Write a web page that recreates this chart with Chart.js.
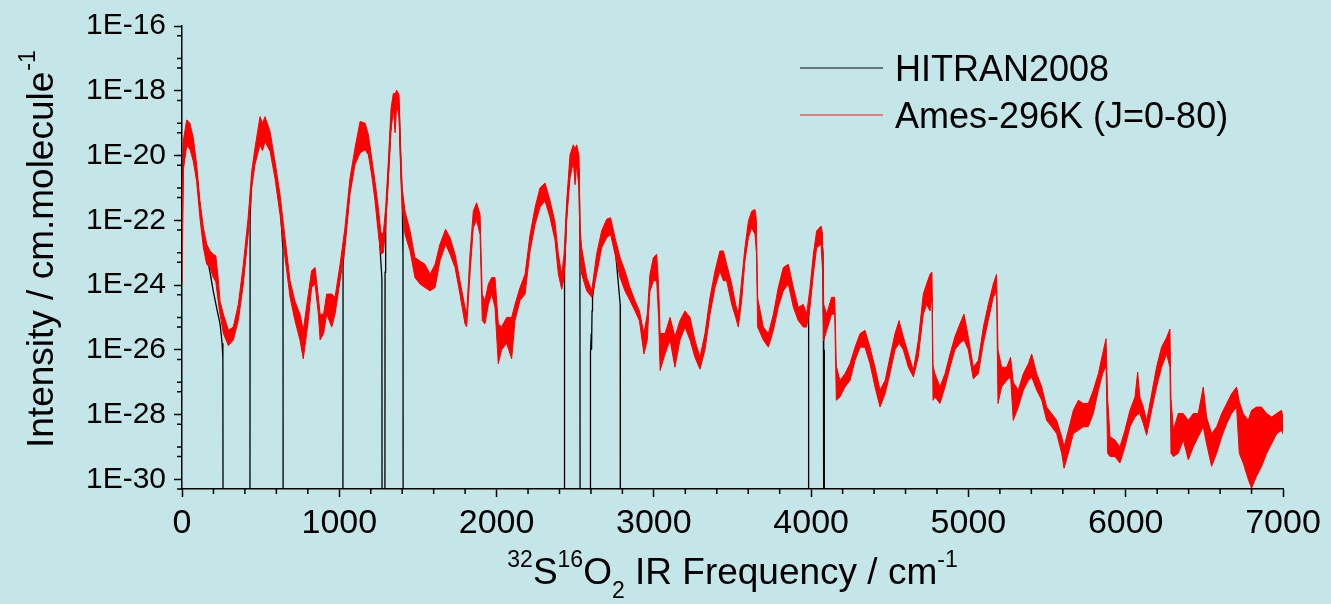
<!DOCTYPE html>
<html>
<head>
<meta charset="utf-8">
<script src="https://cdn.jsdelivr.net/npm/chart.js@4/dist/chart.umd.min.js"></script>
<style>
body { margin: 0; background: #c5e6e8; }
canvas { display: block; }
</style>
</head>
<body>
<canvas id="myChart" width="1331" height="604"></canvas>
<script>
// frequencies (cm-1) and log10 intensity, upper and lower edge of the Ames band
var freq = [0, 10, 30, 50, 72, 93, 114, 136, 157, 178, 199, 215, 230, 242, 263, 295, 326, 358, 390, 421,
  443, 464, 496, 512, 528, 560, 591, 623, 655, 687, 718, 750, 771, 803, 824, 846, 867, 878, 900, 920,
  952, 973, 1005, 1036, 1068, 1100, 1132, 1164, 1185, 1206, 1227, 1248, 1265, 1280, 1295, 1312, 1329, 1344, 1355, 1365,
  1380, 1392, 1400, 1418, 1450, 1481, 1513, 1545, 1577, 1609, 1640, 1676, 1704, 1736, 1767, 1799, 1810, 1831, 1852, 1873,
  1895, 1909, 1926, 1948, 1969, 1990, 2011, 2032, 2064, 2096, 2117, 2149, 2181, 2213, 2245, 2276, 2308, 2340, 2371, 2393,
  2414, 2429, 2446, 2467, 2488, 2499, 2509, 2524, 2532, 2541, 2573, 2605, 2636, 2668, 2700, 2725, 2753, 2785, 2816, 2848,
  2880, 2908, 2937, 2958, 2975, 2997, 3018, 3030, 3040, 3071, 3103, 3134, 3166, 3198, 3230, 3261, 3293, 3325, 3357, 3389,
  3420, 3442, 3463, 3495, 3520, 3537, 3558, 3579, 3601, 3622, 3643, 3652, 3660, 3696, 3728, 3760, 3791, 3823, 3855, 3887,
  3918, 3950, 3971, 3993, 4014, 4035, 4063, 4072, 4080, 4099, 4130, 4150, 4160, 4183, 4215, 4247, 4279, 4311, 4342, 4374,
  4406, 4438, 4470, 4501, 4533, 4559, 4586, 4618, 4650, 4681, 4713, 4734, 4756, 4768, 4775, 4787, 4819, 4851, 4883, 4914,
  4946, 4972, 4999, 5031, 5063, 5095, 5126, 5158, 5179, 5188, 5211, 5243, 5268, 5285, 5317, 5349, 5381, 5402, 5434, 5466,
  5497, 5529, 5561, 5593, 5608, 5635, 5667, 5699, 5730, 5762, 5794, 5826, 5853, 5875, 5885, 5900, 5932, 5963, 5995, 6027,
  6059, 6076, 6090, 6112, 6133, 6165, 6196, 6228, 6260, 6281, 6288, 6303, 6334, 6366, 6398, 6430, 6461, 6493, 6514, 6546,
  6578, 6610, 6642, 6673, 6705, 6722, 6747, 6779, 6800, 6832, 6864, 6896, 6928, 6959, 6991, 7000];

var amesHi = [-22.0, -19.5, -18.9, -19.0, -19.46, -20.28, -21.4, -22.23, -22.74, -22.95, -23.05, -23.1, -23.8, -24.5, -24.9, -25.4, -25.3, -24.6, -23.36, -21.9,
  -20.5, -19.77, -18.8, -19.0, -18.8, -19.26, -20.18, -21.2, -22.54, -23.87, -24.5, -24.9, -25.4, -24.28, -23.56, -23.46, -24.38, -24.9, -24.9, -24.28,
  -24.28, -24.38, -23.36, -22.23, -20.7, -19.77, -18.95, -19.0, -19.36, -20.08, -20.8, -21.6, -22.4, -22.4, -21.6, -20.18, -18.54, -18.08, -18.1, -17.98,
  -18.13, -20.0, -21.0, -21.72, -22.33, -23.15, -23.26, -23.36, -23.67, -23.36, -22.74, -22.28, -22.54, -23.05, -23.87, -24.69, -24.9, -23.05, -21.72, -21.46,
  -21.82, -24.3, -24.48, -23.97, -23.77, -23.77, -25.2, -25.3, -25.0, -25.0, -24.6, -24.08, -23.67, -22.44, -21.6, -21.0, -20.85, -21.4, -22.05, -23.05,
  -23.67, -23.05, -21.4, -19.98, -19.67, -19.8, -19.67, -20.0, -22.3, -22.85, -23.77, -24.18, -23.05, -22.33, -21.97, -21.92, -22.54, -23.15, -23.56, -24.08,
  -24.48, -24.8, -25.5, -24.9, -23.67, -23.15, -23.05, -24.0, -25.5, -25.5, -25.0, -25.6, -25.1, -24.8, -25.0, -25.7, -26.23, -25.5, -24.38, -23.56,
  -22.95, -22.95, -23.36, -23.97, -24.6, -24.9, -23.87, -22.85, -22.03, -21.72, -21.67, -22.0, -24.4, -25.3, -25.5, -24.9, -24.08, -23.46, -23.36, -24.08,
  -24.69, -24.6, -24.9, -24.08, -23.05, -22.33, -22.18, -22.4, -24.6, -24.9, -24.38, -24.38, -26.5, -26.95, -26.74, -26.43, -25.92, -25.5, -25.4, -25.92,
  -26.54, -27.25, -26.95, -26.23, -25.5, -25.1, -25.6, -26.13, -26.64, -25.72, -24.28, -23.97, -23.67, -23.6, -26.5, -26.74, -27.15, -26.74, -26.13, -25.6,
  -25.2, -24.9, -25.6, -26.54, -26.33, -25.3, -24.6, -23.97, -23.67, -26.0, -26.54, -26.54, -26.23, -27.0, -27.25, -26.74, -26.43, -26.13, -26.74, -27.15,
  -27.77, -27.97, -28.18, -28.69, -29.0, -28.49, -27.87, -27.56, -27.66, -27.66, -27.25, -26.74, -26.13, -25.66, -27.5, -28.69, -28.79, -29.0, -28.49, -27.87,
  -27.46, -26.69, -27.46, -27.77, -28.2, -27.36, -26.54, -25.92, -25.62, -25.36, -27.5, -28.49, -27.97, -27.97, -28.18, -27.97, -27.97, -27.15, -28.08, -28.59,
  -28.38, -27.97, -27.66, -27.36, -27.15, -27.6, -27.97, -28.18, -27.87, -27.77, -27.77, -27.97, -28.08, -27.97, -27.87, -28.1];

var amesLo = [-24.0, -20.4, -19.7, -19.8, -20.18, -20.8, -21.92, -22.85, -23.36, -23.46, -23.77, -23.9, -24.5, -24.9, -25.5, -25.87, -25.7, -25.1, -23.97, -22.44,
  -21.0, -20.28, -19.67, -19.85, -19.57, -19.87, -20.7, -21.82, -23.15, -24.38, -25.1, -25.7, -26.28, -25.1, -24.08, -23.97, -24.9, -25.7, -25.5, -24.9,
  -25.3, -24.9, -23.87, -22.85, -21.2, -20.28, -19.92, -19.82, -19.98, -20.6, -21.4, -22.4, -23.05, -23.0, -22.23, -20.8, -19.26, -18.54, -19.3, -18.44,
  -18.8, -20.8, -21.6, -22.44, -22.95, -23.77, -23.97, -24.08, -24.18, -24.08, -23.26, -22.74, -23.05, -23.46, -24.28, -25.2, -25.29, -23.67, -22.23, -22.0,
  -22.44, -25.1, -25.2, -24.6, -24.28, -24.69, -26.43, -26.0, -25.8, -26.28, -25.1, -24.48, -24.28, -22.95, -22.13, -21.6, -21.4, -21.92, -22.6, -23.67,
  -24.13, -23.8, -22.0, -20.7, -20.18, -20.9, -20.28, -21.0, -23.2, -23.67, -24.18, -24.38, -23.67, -22.85, -22.54, -22.44, -23.05, -23.77, -24.18, -24.48,
  -24.8, -25.1, -26.13, -25.7, -24.2, -23.87, -23.87, -25.0, -26.64, -26.13, -25.7, -26.54, -25.7, -25.3, -25.7, -26.23, -26.6, -26.0, -24.9, -24.08,
  -23.56, -23.87, -23.87, -24.6, -25.0, -25.3, -24.5, -23.26, -22.54, -22.23, -22.44, -23.0, -25.3, -25.7, -25.92, -25.4, -24.69, -24.18, -23.97, -24.69,
  -25.1, -25.3, -25.3, -24.69, -23.67, -22.85, -22.74, -23.5, -25.72, -25.4, -24.9, -24.9, -27.56, -27.46, -27.15, -26.95, -26.33, -25.92, -25.92, -26.43,
  -27.15, -27.77, -27.36, -26.74, -26.0, -25.8, -26.0, -26.54, -26.84, -26.23, -24.9, -24.6, -24.8, -24.3, -27.56, -27.46, -27.66, -27.15, -26.54, -26.0,
  -25.8, -25.7, -26.0, -26.9, -26.74, -25.8, -25.1, -24.38, -24.18, -27.66, -27.15, -26.95, -26.84, -28.18, -27.77, -27.25, -26.95, -26.84, -27.25, -27.56,
  -28.18, -28.38, -28.59, -29.2, -29.66, -29.2, -28.59, -28.49, -28.38, -28.38, -27.97, -27.25, -26.74, -26.5, -29.2, -29.3, -29.3, -29.5, -29.0, -28.38,
  -28.08, -28.0, -27.97, -28.28, -28.64, -27.87, -27.15, -26.54, -26.13, -26.54, -29.2, -29.3, -29.2, -28.79, -29.4, -29.0, -28.69, -28.38, -28.9, -29.6,
  -29.2, -28.69, -28.28, -27.97, -27.77, -29.2, -29.5, -30.0, -30.28, -29.9, -29.6, -29.2, -28.9, -28.6, -28.49, -28.6];

// HITRAN2008 trace, -32 means no line (below the axis)
var hitranFreq = [0, 10, 30, 50, 72, 93, 114, 136, 157, 178, 199, 220, 242, 255, 260, 261,
  432, 433, 443, 464, 496, 528, 560, 591, 623, 642, 643,
  1023, 1024, 1036, 1068, 1100, 1132, 1164, 1185, 1206, 1227, 1248, 1271, 1272,
  1290, 1291, 1295, 1312, 1329, 1344, 1365, 1380, 1392, 1400, 1405, 1406,
  2431, 2432, 2446, 2467, 2488, 2509, 2524, 2530, 2531,
  2596, 2597, 2602, 2604, 2607, 2610, 2636, 2668, 2700, 2725, 2753, 2786, 2787,
  3983, 3984, 3993, 4014, 4035, 4063, 4075, 4078, 4080, 4082, 4084, 7000];
var hitranLog = [-21.5, -19.6, -19.2, -19.3, -19.8, -20.5, -21.6, -22.6, -23.1, -23.6, -24.2, -24.7, -25.2, -25.8, -26.3, -32,
  -32, -21.9, -20.8, -20.0, -19.2, -19.1, -19.5, -20.4, -21.5, -22.9, -32,
  -32, -23.4, -22.6, -21.0, -20.0, -19.4, -19.4, -19.6, -20.3, -21.1, -22.0, -23.8, -32,
  -32, -23.6, -22.0, -20.5, -18.9, -18.3, -18.2, -18.5, -20.4, -21.3, -23.05, -32,
  -32, -23.6, -21.7, -20.3, -19.9, -20.0, -20.5, -22.5, -32,
  -32, -26.1, -25.5, -26.0, -24.8, -24.4, -23.4, -22.6, -22.3, -22.2, -22.8, -24.6, -32,
  -32, -25.0, -24.4, -23.4, -22.6, -22.4, -23.0, -25.4, -32, -26.0, -32, -32];

var yTickExp = [-30, -28, -26, -24, -22, -20, -18, -16];
var xTicks = [0, 1000, 2000, 3000, 4000, 5000, 6000, 7000];

function toPoints(xs, logs) {
  var pts = [];
  for (var i = 0; i < xs.length; i++) pts.push({x: xs[i], y: Math.pow(10, logs[i])});
  return pts;
}

var FONT = '"Liberation Sans", Arial, sans-serif';

var extras = {
  id: 'extras',
  beforeDraw: function(chart) {
    var c = chart.ctx;
    c.save();
    c.fillStyle = '#c5e6e8';
    c.fillRect(0, 0, chart.width, chart.height);
    c.restore();
  },
  afterDraw: function(chart) {
    var c = chart.ctx;
    var xs = chart.scales.x, ys = chart.scales.y, a = chart.chartArea;
    c.save();
    c.strokeStyle = '#000';
    c.lineWidth = 1.5;
    c.beginPath();
    for (var v = 200; v < 7000; v += 200) {
      if (v % 1000 === 0) continue;
      var px = xs.getPixelForValue(v);
      c.moveTo(px, a.bottom);
      c.lineTo(px, a.bottom + 5);
    }
    for (var e = -31; e <= -17; e++) {
      var vals = [5 * Math.pow(10, e)];
      if (e % 2 !== 0) vals.push(Math.pow(10, e));
      vals.forEach(function(val) {
        if (val < ys.min || val > ys.max) return;
        var py = ys.getPixelForValue(val);
        c.moveTo(a.left - 5, py);
        c.lineTo(a.left, py);
      });
    }
    c.stroke();

    // legend
    c.lineWidth = 1.5;
    c.strokeStyle = 'rgba(0,0,0,0.65)';
    c.beginPath(); c.moveTo(800, 68); c.lineTo(883, 68); c.stroke();
    c.strokeStyle = 'rgba(255,0,0,0.6)';
    c.beginPath(); c.moveTo(800, 115); c.lineTo(883, 115); c.stroke();
    c.fillStyle = '#000';
    c.font = '36px ' + FONT;
    c.textAlign = 'left';
    c.textBaseline = 'alphabetic';
    c.fillText('HITRAN2008', 895, 81);
    c.fillText('Ames-296K (J=0-80)', 895, 128);

    // y title
    c.save();
    c.translate(53, 448);
    c.rotate(-Math.PI / 2);
    c.font = '37px ' + FONT;
    var t = 'Intensity / cm.molecule';
    c.fillText(t, 0, 0);
    var w = c.measureText(t).width;
    c.font = '23px ' + FONT;
    c.fillText('-1', w + 1, -18);
    c.restore();

    // x title
    var parts = [['32', 'sup'], ['S', ''], ['16', 'sup'], ['O', ''], ['2', 'sub'], [' IR Frequency / cm', ''], ['-1', 'sup']];
    var total = 0;
    parts.forEach(function(p) {
      c.font = (p[1] ? '23px ' : '37px ') + FONT;
      total += c.measureText(p[0]).width;
    });
    var x0 = (a.left + a.right) / 2 - total / 2, base = 584;
    parts.forEach(function(p) {
      c.font = (p[1] ? '23px ' : '37px ') + FONT;
      var dy = p[1] === 'sup' ? -17 : (p[1] === 'sub' ? 14 : 0);
      c.fillText(p[0], x0, base + dy);
      x0 += c.measureText(p[0]).width;
    });
    c.restore();
  }
};

var ctx = document.getElementById('myChart').getContext('2d');
var myChart = new Chart(ctx, {
  type: 'line',
  data: {
    datasets: [{
      label: 'Ames-296K (J=0-80)',
      data: toPoints(freq, amesHi),
      borderColor: '#ff0000',
      backgroundColor: '#ff0000',
      borderWidth: 1,
      fill: '+1',
      order: 0
    }, {
      label: 'Ames lower',
      data: toPoints(freq, amesLo),
      borderColor: '#ff0000',
      borderWidth: 1,
      fill: false,
      order: 0
    }, {
      label: 'HITRAN2008',
      data: toPoints(hitranFreq, hitranLog),
      borderColor: '#000000',
      borderWidth: 1.3,
      fill: false,
      order: 1
    }]
  },
  options: {
    responsive: false,
    animation: false,
    elements: { point: { radius: 0 }, line: { tension: 0 } },
    layout: { padding: { top: 24, right: 48, left: 0, bottom: 0 } },
    plugins: { legend: { display: false }, tooltip: { enabled: false } },
    scales: {
      x: {
        type: 'linear',
        min: 0,
        max: 7000,
        afterBuildTicks: function(s) { s.ticks = xTicks.map(function(v) { return {value: v}; }); },
        afterFit: function(s) { s.height = 115; },
        ticks: {
          color: '#000', font: { family: FONT, size: 34 }, padding: 6, maxRotation: 0, autoSkip: false,
          callback: function(v) { return String(v); }
        },
        grid: { drawOnChartArea: false, tickLength: 8, tickColor: '#000', tickWidth: 1.5 },
        border: { color: '#000', width: 1.5 }
      },
      y: {
        type: 'logarithmic',
        min: 5e-31,
        max: 1e-16,
        afterBuildTicks: function(s) { s.ticks = yTickExp.map(function(e) { return {value: Math.pow(10, e)}; }); },
        afterFit: function(s) { s.width = 182; },
        ticks: {
          color: '#000', font: { family: FONT, size: 30 }, padding: 8, autoSkip: false,
          callback: function(v) { return '1E' + Math.round(Math.log10(v)); }
        },
        grid: { drawOnChartArea: false, tickLength: 8, tickColor: '#000', tickWidth: 1.5 },
        border: { color: '#000', width: 1.5 }
      }
    }
  },
  plugins: [extras]
});
</script>
</body>
</html>
